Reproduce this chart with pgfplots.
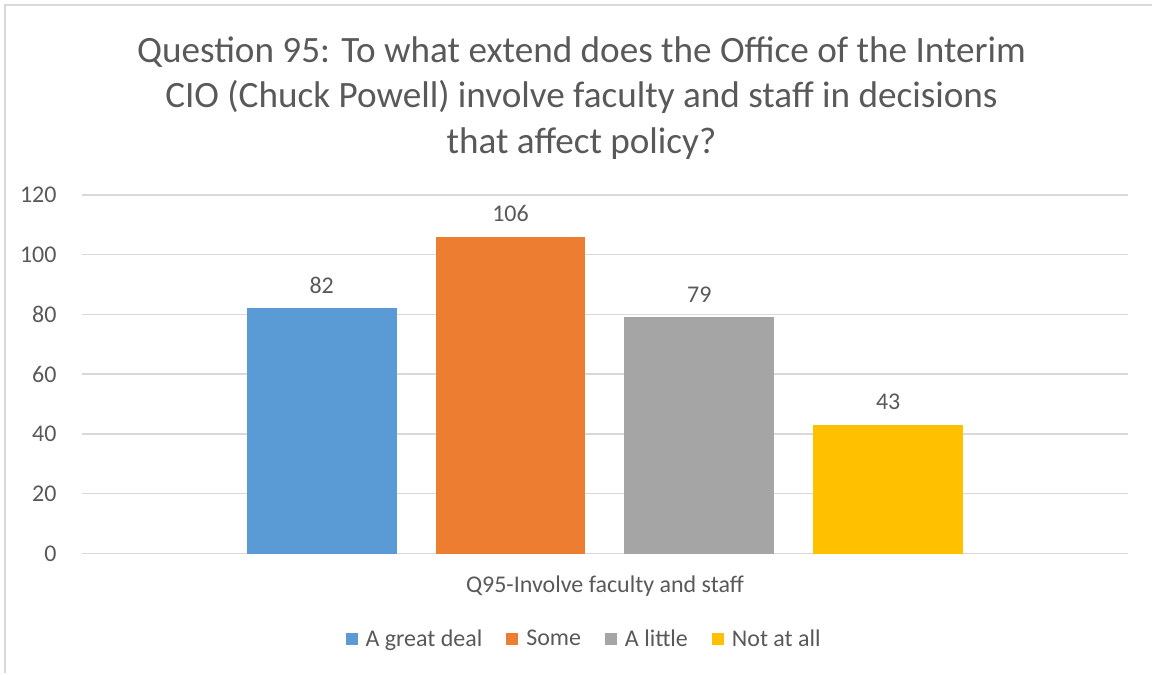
\documentclass[border=0pt]{standalone}
\usepackage{pgfplots}
\pgfplotsset{compat=1.18}
\usepackage{fontspec}
\setmainfont{Carlito}
\definecolor{txt}{HTML}{595959}
\definecolor{grd}{HTML}{D9D9D9}
\definecolor{c1}{HTML}{5B9BD5}
\definecolor{c2}{HTML}{ED7D31}
\definecolor{c3}{HTML}{A5A5A5}
\definecolor{c4}{HTML}{FFC000}
\begin{document}
\begin{tikzpicture}
\path (0,0) rectangle (576.5pt,337pt);
\draw[grd, line width=1pt] (2.5pt,0) -- (2.5pt,334.5pt) -- (576.5pt,334.5pt);
\node[txt, align=center, font=\fontsize{18.6}{22.75}\selectfont] at (291pt,288pt)
  {Question 95: To what extend does the Office of the Interim\\
   CIO (Chuck Powell) involve faculty and staff in decisions\\
   that affect policy?};
\begin{axis}[
  at={(41pt,60pt)}, anchor=south west,
  scale only axis, width=523.5pt, height=179.5pt,
  ybar=19.5pt, bar width=75pt,
  xmin=-1, xmax=1, ymin=0, ymax=120,
  ytick={0,20,...,120}, xtick={0},
  xticklabels={Q95-Involve faculty and staff},
  axis x line*=bottom, axis y line*=left,
  y axis line style={draw=none},
  x axis line style={grd, line width=0.9pt},
  ymajorgrids, major grid style={grd, line width=0.75pt},
  tick style={draw=none},
  /pgf/number format/assume math mode=true,
  tick label style={txt, font=\fontsize{12}{14}\selectfont},
  yticklabel style={inner sep=0pt, xshift=-12.5pt},
  xticklabel style={anchor=center, inner sep=0pt, yshift=-12pt},
  nodes near coords,
  every node near coord/.append style={txt, font=\fontsize{12}{14}\selectfont, anchor=center, yshift=11.5pt},
  legend columns=4,
  legend style={draw=none, at={(0.481,0)}, anchor=center, yshift=-43pt,
    font=\fontsize{12}{14}\selectfont, text=txt,
    /tikz/every odd column/.append style={column sep=2pt},
    /tikz/every even column/.append style={column sep=10pt}},
]
\addplot[fill=c1, draw=none, legend image code/.code={\fill[c1] (0pt,-3pt) rectangle (6pt,3pt);}] coordinates {(0,82)};
\addplot[fill=c2, draw=none, legend image code/.code={\fill[c2] (0pt,-3pt) rectangle (6pt,3pt);}] coordinates {(0,106)};
\addplot[fill=c3, draw=none, legend image code/.code={\fill[c3] (0pt,-3pt) rectangle (6pt,3pt);}] coordinates {(0,79)};
\addplot[fill=c4, draw=none, legend image code/.code={\fill[c4] (0pt,-3pt) rectangle (6pt,3pt);}] coordinates {(0,43)};
\legend{A great deal, Some, A little, Not at all}
\end{axis}
\end{tikzpicture}
\end{document}
